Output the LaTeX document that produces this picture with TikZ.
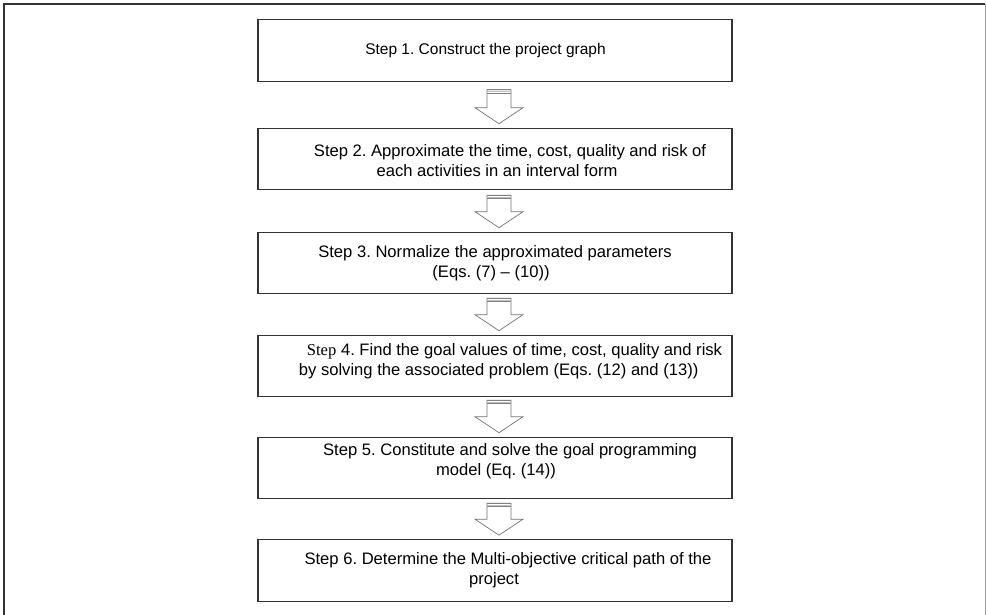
\documentclass[tikz,border=0pt]{standalone}
\usepackage{fontspec}
\setmainfont{Liberation Sans}
\newfontfamily\serifstep{Liberation Serif}
\usetikzlibrary{calc}
\tikzset{
  stepbox/.style={draw=black!80, line width=1.1pt, minimum width=474pt, minimum height=61.5pt, inner sep=0pt},
  steptext/.style={font=\fontsize{16.6}{20}\selectfont\frenchspacing, inner sep=0pt, text=black},
  steptextone/.style={font=\fontsize{15.5}{20}\selectfont\frenchspacing, inner sep=0pt, text=black},
  blockarrow/.style={draw=black!55, line width=0.7pt, fill=white},
  arrowband/.style={draw=black!50, line width=0.8pt},
  frameline/.style={draw=black!80, line width=1.6pt},
  frameright/.style={draw=black!40, line width=1pt},
}
\newcommand\blockarr[3]{%
  \draw[blockarrow] let \p1=($(#1.south)+(4,#3)$), \p2=($(#2.north)+(4,-4)$) in
    (\x1-12pt,\y1) -- (\x1+12pt,\y1) -- (\x1+12pt,\y2+16pt) -- (\x1+24pt,\y2+16pt)
    -- (\x2,\y2) -- (\x1-24pt,\y2+16pt) -- (\x1-12pt,\y2+16pt) -- cycle;
  \draw[arrowband] let \p1=($(#1.south)+(4,#3)$) in
    (\x1-12pt,\y1) -- (\x1+12pt,\y1)
    (\x1-12pt,\y1-3.5pt) -- (\x1+12pt,\y1-3.5pt);
  \draw[draw=black!25, line width=0.6pt] let \p1=($(#1.south)+(4,#3)$) in
    (\x1-12pt,\y1-1.7pt) -- (\x1+12pt,\y1-1.7pt);
}
\begin{document}
\begin{tikzpicture}[x=1pt, y=-1pt]
  \useasboundingbox (0,0) rectangle (986,615);
  % frame
  \draw[frameline] (4,615) -- (4,4) -- (985,4);
  \draw[frameright] (985,4) -- (985,615);
  % boxes
  \node[stepbox] (s1) at (495,50.5) {};
  \node[stepbox] (s2) at (495,159) {};
  \node[stepbox] (s3) at (495,263) {};
  \node[stepbox] (s4) at (495,366) {};
  \node[stepbox] (s5) at (495,468) {};
  \node[stepbox] (s6) at (495,570.5) {};
  % texts
  \node[steptextone] (t1) at ([xshift=-9.5pt]s1.center) {Step 1. Construct the project graph};
  \node[steptext, align=center] (t2) at ([xshift=2pt, yshift=-2pt]s2.center)
    {\hspace*{26pt}Step 2. Approximate the time, cost, quality and risk of\\each activities in an interval form};
  \node[steptext, align=center] (t3) at ([xshift=-4pt]s3.center)
    {\hspace*{8pt}Step 3. Normalize the approximated parameters\\(Eqs. (7) -- (10))};
  \node[steptext, align=left] (t4) at ([xshift=15.5pt, yshift=5pt]s4.center)
    {\hspace*{8pt}{\serifstep Step} 4. Find the goal values of time, cost, quality and risk\\by solving the associated problem (Eqs. (12) and (13))};
  \node[steptext, align=center] (t5) at ([xshift=1pt, yshift=7pt]s5.center)
    {\hspace*{28pt}Step 5. Constitute and solve the goal programming\\model (Eq. (14))};
  \node[steptext, align=center] (t6) at ([xshift=-1pt]s6.center)
    {\hspace*{28pt}Step 6. Determine the Multi-objective critical path of the\\project};
  % arrows
  \blockarr{s1}{s2}{8}
  \blockarr{s2}{s3}{5}
  \blockarr{s3}{s4}{4}
  \blockarr{s4}{s5}{3}
  \blockarr{s5}{s6}{4}
\end{tikzpicture}
\end{document}
